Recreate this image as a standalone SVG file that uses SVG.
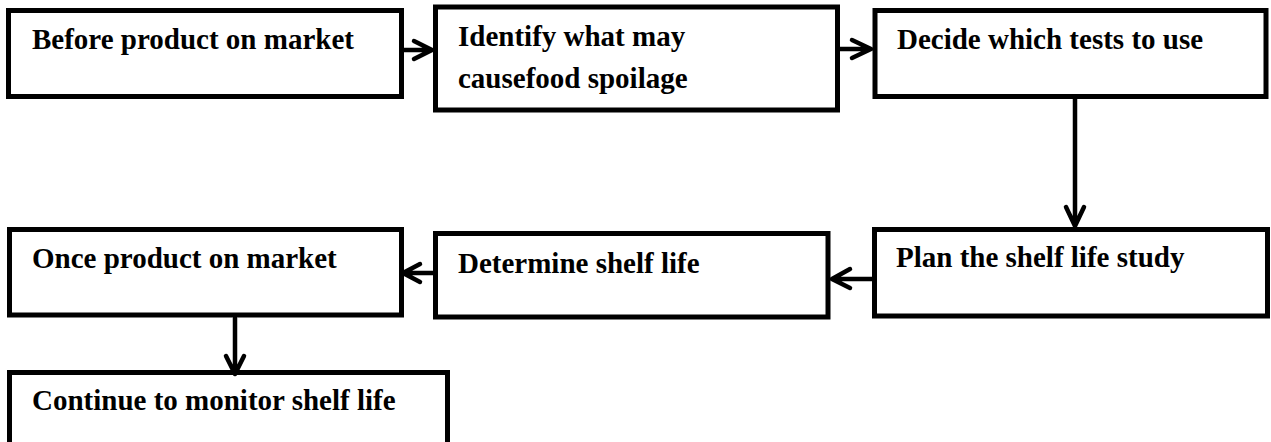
<svg xmlns="http://www.w3.org/2000/svg" width="1271" height="442" viewBox="0 0 1271 442">
<style>
.box{fill:#fff;stroke:#000;stroke-width:5}
.lbl{font-family:'Liberation Serif','Times New Roman',serif;font-weight:bold;font-size:29px;fill:#000}
.conn{fill:none;stroke:#000;stroke-width:4.5;stroke-linecap:round;stroke-linejoin:round}
</style>
<rect width="1271" height="442" fill="#fff"/>
<g id="n1"><rect class="box" x="8.5" y="10.5" width="393" height="86"/><text class="lbl" x="32" y="49">Before product on market</text></g>
<g id="n2"><rect class="box" x="435.5" y="7" width="402" height="103"/><text class="lbl" x="458" y="46">Identify what may</text><text class="lbl" x="458" y="88">causefood spoilage</text></g>
<g id="n3"><rect class="box" x="875" y="10.5" width="391" height="86"/><text class="lbl" x="897" y="49">Decide which tests to use</text></g>
<g id="n4"><rect class="box" x="874.5" y="229.5" width="393" height="86.5"/><text class="lbl" x="896" y="267">Plan the shelf life study</text></g>
<g id="n5"><rect class="box" x="435.5" y="233.5" width="392.5" height="83.5"/><text class="lbl" x="458" y="273">Determine shelf life</text></g>
<g id="n6"><rect class="box" x="9.5" y="229.5" width="392" height="85.5"/><text class="lbl" x="32" y="268">Once product on market</text></g>
<g id="n7"><rect class="box" x="9.5" y="372.5" width="438" height="80"/><text class="lbl" x="32" y="410">Continue to monitor shelf life</text></g>
<g id="connectors">
<path class="conn" d="M403 50H432M414 41L432 50L414 59"/>
<path class="conn" d="M840 49H871M852 40L871 49L852 58"/>
<path class="conn" d="M1075 99V226M1066 207L1075 226L1084 207"/>
<path class="conn" d="M872 279H832M850 269L832 279L850 288"/>
<path class="conn" d="M433 273H403M420 264L403 273L420 282"/>
<path class="conn" d="M235 318V374M226 356L235 374L244 356"/>
</g>
</svg>
